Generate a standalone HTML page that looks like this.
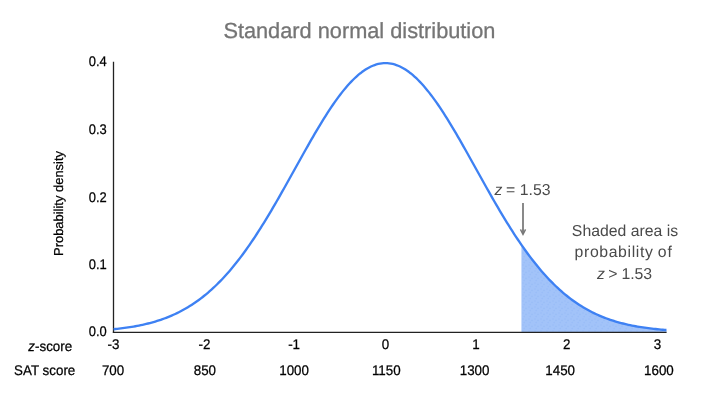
<!DOCTYPE html>
<html><head><meta charset="utf-8"><title>Standard normal distribution</title>
<style>
html,body{margin:0;padding:0;background:#fff;}
body{width:720px;height:405px;overflow:hidden;}
svg{display:block;font-family:"Liberation Sans",sans-serif;text-rendering:geometricPrecision;}
</style></head><body>
<svg width="720" height="405" viewBox="0 0 720 405">
<rect width="720" height="405" fill="#ffffff"/>
<text x="359.4" y="37.5" text-anchor="middle" font-size="21.75" fill="#757575" stroke="#757575" stroke-width="0.3">Standard normal distribution</text>
<defs><pattern id="dots" width="6" height="6" patternUnits="userSpaceOnUse"><rect width="6" height="6" fill="#a2c3f9"/><g fill="#4285f4" fill-opacity="0.10"><circle cx="1" cy="1" r="0.8"/><circle cx="4" cy="2.4" r="0.8"/><circle cx="2.2" cy="4.6" r="0.8"/></g></pattern></defs>
<path d="M521.43,332.2 L521.43,244.84 L523.25,247.44 L525.06,249.99 L526.87,252.50 L528.69,254.97 L530.50,257.38 L532.31,259.75 L534.12,262.08 L535.94,264.35 L537.75,266.58 L539.56,268.76 L541.37,270.90 L543.19,272.98 L545.00,275.02 L546.81,277.01 L548.62,278.95 L550.44,280.84 L552.25,282.69 L554.06,284.49 L555.87,286.24 L557.69,287.94 L559.50,289.60 L561.31,291.21 L563.12,292.78 L564.94,294.30 L566.75,295.78 L568.56,297.22 L570.38,298.61 L572.19,299.96 L574.00,301.27 L575.81,302.53 L577.63,303.76 L579.44,304.95 L581.25,306.09 L583.06,307.20 L584.88,308.27 L586.69,309.31 L588.50,310.31 L590.31,311.27 L592.13,312.20 L593.94,313.09 L595.75,313.96 L597.56,314.79 L599.38,315.59 L601.19,316.36 L603.00,317.09 L604.81,317.81 L606.63,318.49 L608.44,319.14 L610.25,319.77 L612.06,320.38 L613.88,320.96 L615.69,321.51 L617.50,322.04 L619.32,322.55 L621.13,323.04 L622.94,323.50 L624.75,323.95 L626.57,324.38 L628.38,324.78 L630.19,325.17 L632.00,325.54 L633.82,325.90 L635.63,326.23 L637.44,326.55 L639.25,326.86 L641.07,327.15 L642.88,327.43 L644.69,327.69 L646.50,327.95 L648.32,328.19 L650.13,328.41 L651.94,328.63 L653.75,328.83 L655.57,329.03 L657.38,329.21 L659.19,329.39 L661.01,329.55 L662.82,329.71 L664.63,329.86 L666.44,330.00 L666.44,332.2 Z" fill="url(#dots)"/>
<path d="M113.5,61.8 V333" stroke="#222" stroke-width="1.3" fill="none"/>
<path d="M112.85,332.35 H666.6" stroke="#222" stroke-width="1.4" fill="none"/>
<path d="M113.60,329.21 L115.41,329.03 L117.23,328.83 L119.04,328.63 L120.85,328.41 L122.66,328.19 L124.48,327.95 L126.29,327.69 L128.10,327.43 L129.91,327.15 L131.73,326.86 L133.54,326.55 L135.35,326.23 L137.16,325.90 L138.98,325.54 L140.79,325.17 L142.60,324.78 L144.41,324.38 L146.23,323.95 L148.04,323.50 L149.85,323.04 L151.66,322.55 L153.48,322.04 L155.29,321.51 L157.10,320.96 L158.91,320.38 L160.73,319.77 L162.54,319.14 L164.35,318.49 L166.17,317.81 L167.98,317.09 L169.79,316.36 L171.60,315.59 L173.42,314.79 L175.23,313.96 L177.04,313.09 L178.85,312.20 L180.67,311.27 L182.48,310.31 L184.29,309.31 L186.10,308.27 L187.92,307.20 L189.73,306.09 L191.54,304.95 L193.35,303.76 L195.17,302.53 L196.98,301.27 L198.79,299.96 L200.60,298.61 L202.42,297.22 L204.23,295.78 L206.04,294.30 L207.86,292.78 L209.67,291.21 L211.48,289.60 L213.29,287.94 L215.11,286.24 L216.92,284.49 L218.73,282.69 L220.54,280.84 L222.36,278.95 L224.17,277.01 L225.98,275.02 L227.79,272.98 L229.61,270.90 L231.42,268.76 L233.23,266.58 L235.04,264.35 L236.86,262.08 L238.67,259.75 L240.48,257.38 L242.29,254.97 L244.11,252.50 L245.92,249.99 L247.73,247.44 L249.54,244.84 L251.36,242.20 L253.17,239.51 L254.98,236.79 L256.80,234.02 L258.61,231.21 L260.42,228.36 L262.23,225.48 L264.05,222.56 L265.86,219.60 L267.67,216.61 L269.48,213.59 L271.30,210.54 L273.11,207.46 L274.92,204.35 L276.73,201.22 L278.55,198.07 L280.36,194.89 L282.17,191.70 L283.98,188.48 L285.80,185.26 L287.61,182.02 L289.42,178.77 L291.23,175.52 L293.05,172.25 L294.86,168.99 L296.67,165.73 L298.49,162.47 L300.30,159.21 L302.11,155.96 L303.92,152.73 L305.74,149.50 L307.55,146.30 L309.36,143.11 L311.17,139.94 L312.99,136.80 L314.80,133.69 L316.61,130.61 L318.42,127.56 L320.24,124.55 L322.05,121.58 L323.86,118.66 L325.67,115.78 L327.49,112.95 L329.30,110.17 L331.11,107.44 L332.92,104.77 L334.74,102.16 L336.55,99.62 L338.36,97.14 L340.17,94.73 L341.99,92.39 L343.80,90.13 L345.61,87.94 L347.43,85.83 L349.24,83.80 L351.05,81.86 L352.86,80.00 L354.68,78.23 L356.49,76.54 L358.30,74.95 L360.11,73.46 L361.93,72.06 L363.74,70.75 L365.55,69.55 L367.36,68.44 L369.18,67.44 L370.99,66.54 L372.80,65.74 L374.61,65.04 L376.43,64.46 L378.24,63.97 L380.05,63.60 L381.86,63.33 L383.68,63.17 L385.49,63.11 L387.30,63.17 L389.12,63.33 L390.93,63.60 L392.74,63.97 L394.55,64.46 L396.37,65.04 L398.18,65.74 L399.99,66.54 L401.80,67.44 L403.62,68.44 L405.43,69.55 L407.24,70.75 L409.05,72.06 L410.87,73.46 L412.68,74.95 L414.49,76.54 L416.30,78.23 L418.12,80.00 L419.93,81.86 L421.74,83.80 L423.55,85.83 L425.37,87.94 L427.18,90.13 L428.99,92.39 L430.80,94.73 L432.62,97.14 L434.43,99.62 L436.24,102.16 L438.06,104.77 L439.87,107.44 L441.68,110.17 L443.49,112.95 L445.31,115.78 L447.12,118.66 L448.93,121.58 L450.74,124.55 L452.56,127.56 L454.37,130.61 L456.18,133.69 L457.99,136.80 L459.81,139.94 L461.62,143.11 L463.43,146.30 L465.24,149.50 L467.06,152.73 L468.87,155.96 L470.68,159.21 L472.49,162.47 L474.31,165.73 L476.12,168.99 L477.93,172.25 L479.75,175.52 L481.56,178.77 L483.37,182.02 L485.18,185.26 L487.00,188.48 L488.81,191.70 L490.62,194.89 L492.43,198.07 L494.25,201.22 L496.06,204.35 L497.87,207.46 L499.68,210.54 L501.50,213.59 L503.31,216.61 L505.12,219.60 L506.93,222.56 L508.75,225.48 L510.56,228.36 L512.37,231.21 L514.18,234.02 L516.00,236.79 L517.81,239.51 L519.62,242.20 L521.43,244.84 L523.25,247.44 L525.06,249.99 L526.87,252.50 L528.69,254.97 L530.50,257.38 L532.31,259.75 L534.12,262.08 L535.94,264.35 L537.75,266.58 L539.56,268.76 L541.37,270.90 L543.19,272.98 L545.00,275.02 L546.81,277.01 L548.62,278.95 L550.44,280.84 L552.25,282.69 L554.06,284.49 L555.87,286.24 L557.69,287.94 L559.50,289.60 L561.31,291.21 L563.12,292.78 L564.94,294.30 L566.75,295.78 L568.56,297.22 L570.38,298.61 L572.19,299.96 L574.00,301.27 L575.81,302.53 L577.63,303.76 L579.44,304.95 L581.25,306.09 L583.06,307.20 L584.88,308.27 L586.69,309.31 L588.50,310.31 L590.31,311.27 L592.13,312.20 L593.94,313.09 L595.75,313.96 L597.56,314.79 L599.38,315.59 L601.19,316.36 L603.00,317.09 L604.81,317.81 L606.63,318.49 L608.44,319.14 L610.25,319.77 L612.06,320.38 L613.88,320.96 L615.69,321.51 L617.50,322.04 L619.32,322.55 L621.13,323.04 L622.94,323.50 L624.75,323.95 L626.57,324.38 L628.38,324.78 L630.19,325.17 L632.00,325.54 L633.82,325.90 L635.63,326.23 L637.44,326.55 L639.25,326.86 L641.07,327.15 L642.88,327.43 L644.69,327.69 L646.50,327.95 L648.32,328.19 L650.13,328.41 L651.94,328.63 L653.75,328.83 L655.57,329.03 L657.38,329.21 L659.19,329.39 L661.01,329.55 L662.82,329.71 L664.63,329.86 L666.44,330.00" fill="none" stroke="#3e81f3" stroke-width="2.35" stroke-linejoin="round"/>
<g fill="#000" stroke="#000" stroke-width="0.25">
<text transform="translate(106.70,336.10) scale(0.925,1)" text-anchor="end" font-size="14">0.0</text>
<text transform="translate(106.70,268.70) scale(0.925,1)" text-anchor="end" font-size="14">0.1</text>
<text transform="translate(106.70,201.60) scale(0.925,1)" text-anchor="end" font-size="14">0.2</text>
<text transform="translate(106.70,133.90) scale(0.925,1)" text-anchor="end" font-size="14">0.3</text>
<text transform="translate(106.70,66.40) scale(0.925,1)" text-anchor="end" font-size="14">0.4</text>
<text transform="translate(113.51,349.00) scale(0.955,1)" text-anchor="middle" font-size="14">-3</text>
<text transform="translate(113.07,375.00) scale(0.955,1)" text-anchor="middle" font-size="14">700</text>
<text transform="translate(204.42,349.00) scale(0.955,1)" text-anchor="middle" font-size="14">-2</text>
<text transform="translate(204.86,375.00) scale(0.955,1)" text-anchor="middle" font-size="14">850</text>
<text transform="translate(294.11,349.00) scale(0.955,1)" text-anchor="middle" font-size="14">-1</text>
<text transform="translate(294.10,375.00) scale(0.955,1)" text-anchor="middle" font-size="14">1000</text>
<text transform="translate(385.36,349.00) scale(0.955,1)" text-anchor="middle" font-size="14">0</text>
<text transform="translate(386.29,375.00) scale(0.955,1)" text-anchor="middle" font-size="14">1150</text>
<text transform="translate(476.00,349.00) scale(0.955,1)" text-anchor="middle" font-size="14">1</text>
<text transform="translate(474.60,375.00) scale(0.955,1)" text-anchor="middle" font-size="14">1300</text>
<text transform="translate(566.62,349.00) scale(0.955,1)" text-anchor="middle" font-size="14">2</text>
<text transform="translate(560.18,375.00) scale(0.955,1)" text-anchor="middle" font-size="14">1450</text>
<text transform="translate(657.44,349.00) scale(0.955,1)" text-anchor="middle" font-size="14">3</text>
<text transform="translate(658.92,375.00) scale(0.955,1)" text-anchor="middle" font-size="14">1600</text>
<text transform="translate(72.20,350.70) scale(0.955,1)" text-anchor="end" font-size="14"><tspan font-style="italic">z</tspan>-score</text>
<text transform="translate(75.30,375.40) scale(0.955,1)" text-anchor="end" font-size="14">SAT score</text>
</g>
<text transform="translate(62.6,203.5) rotate(-90)" text-anchor="middle" font-size="12.95" fill="#000" stroke="#000" stroke-width="0.25">Probability density</text>
<g fill="#4a4a4a" font-size="15.8">
<text y="194.8"><tspan x="494.6" font-style="italic">z </tspan><tspan x="506">= </tspan><tspan x="519.8">1.53</tspan></text>
<text x="625" y="235.5" text-anchor="middle">Shaded area is</text>
<text y="256.8" letter-spacing="0.62"><tspan x="574.6">probability </tspan><tspan x="657.8" letter-spacing="0.9">of</tspan></text>
<text y="278.6"><tspan x="597" font-style="italic">z </tspan><tspan x="608.3">&gt; </tspan><tspan x="621.4">1.53</tspan></text>
</g>
<path d="M523,203 V234" stroke="#757575" stroke-width="1.7" fill="none"/>
<path d="M520.4,229.5 L523,234.6 L525.6,229.5" stroke="#757575" stroke-width="1.3" fill="#757575" fill-opacity="0.45" stroke-linejoin="miter"/>
</svg>
</body></html>
